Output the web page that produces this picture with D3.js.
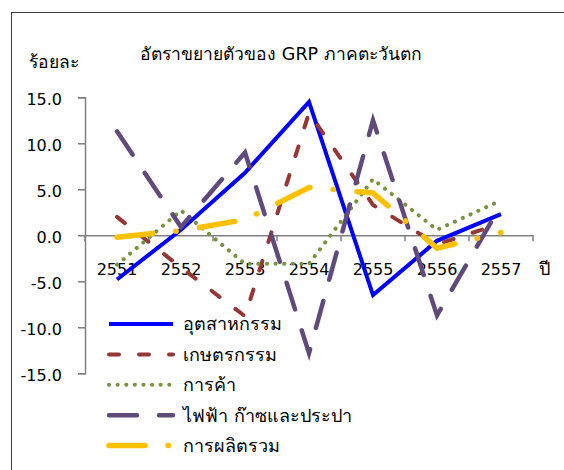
<!DOCTYPE html>
<html><head><meta charset="utf-8">
<script src="https://cdn.jsdelivr.net/npm/d3@7"></script>
<style>
html,body{margin:0;padding:0;background:#fff;}
svg{display:block;}
text{font-family:Tahoma,"DejaVu Sans",sans-serif;fill:#000;}
</style></head>
<body>
<svg id="c" width="564" height="470"></svg>
<script>
const title = "อัตราขยายตัวของ GRP ภาคตะวันตก";
const yUnit = "ร้อยละ";
const xUnit = "ปี";
const years = ["2551","2552","2553","2554","2555","2556","2557"];
const yTicks = [15, 10, 5, 0, -5, -10, -15];
const seriesNames = ["อุตสาหกรรม","เกษตรกรรม","การค้า","ไฟฟ้า ก๊าซและประปา","การผลิตรวม"];
const industry    = [-4.8, 0.6, 6.8, 14.5, -6.5, -0.6, 2.3];
const agriculture = [2.0, -3.5, -8.8, 13.3, 3.3, -1.0, 1.3];
const trade       = [-3.2, 2.7, -3.1, -3.1, 6.1, 0.6, 3.8];
const utilities   = [11.3, 0.9, 9.0, -12.8, 12.5, -8.7, 3.3];
const totalProd   = [-0.2, 0.5, 1.7, 5.2, 4.6, -1.4, 0.3];

const seriesValues = [industry, agriculture, trade, utilities, totalProd];
const styles = [
  {color:"#0000FF", w:4, dash:null},
  {color:"#953735", w:4, dash:"10,20"},
  {color:"#77933C", w:4, dash:"0.1,8.5"},
  {color:"#604A7B", w:4.5, dash:"28,22"},
  {color:"#FFC000", w:5.5, dash:"36,23,0.5,23.5"}
];

const svg = d3.select("#c");
svg.append("rect").attr("x",11.5).attr("y",12.5).attr("width",600).attr("height",500)
  .attr("fill","none").attr("stroke","#404040").attr("stroke-width",1);

const x = d3.scaleBand().domain(years).range([85,533]);
const y = d3.scaleLinear().domain([-15,15]).range([373.3,97.3]);

svg.append("text").attr("x",281).attr("y",60).attr("text-anchor","middle")
  .attr("font-size",17.5).text(title);
svg.append("text").attr("x",54).attr("y",68).attr("text-anchor","middle")
  .attr("font-size",17.5).text(yUnit);

const ya = svg.append("g").attr("transform","translate(85,0)")
  .call(d3.axisLeft(y).tickValues(yTicks).tickSize(7).tickPadding(16).tickFormat(d=>d.toFixed(1)));
ya.select(".domain").attr("stroke","#808080").attr("stroke-width",1.5);
ya.selectAll(".tick line").attr("stroke","#808080").attr("stroke-width",1.5);
ya.selectAll("text").attr("font-size",16).attr("font-family",'Tahoma,"DejaVu Sans",sans-serif').attr("dy","0.45em");

const xa = svg.append("g").attr("transform",`translate(0,${y(0)})`)
  .call(d3.axisBottom(x).tickSize(0).tickPadding(28));
xa.select(".domain").attr("stroke","#808080").attr("stroke-width",1.5);
xa.selectAll("text").attr("font-size",16).attr("font-family",'Tahoma,"DejaVu Sans",sans-serif');
const bounds = years.map(d=>x(d)).concat([x(years[years.length-1])+x.bandwidth()]);
xa.selectAll(".bt").data(bounds).enter().append("line")
  .attr("x1",d=>d).attr("x2",d=>d).attr("y1",0).attr("y2",6)
  .attr("stroke","#808080").attr("stroke-width",1.5);
svg.append("text").attr("x",539).attr("y",275).attr("font-size",18).text(xUnit);

const line = d3.line().x((d,i)=>x(years[i])+x.bandwidth()/2).y(d=>y(d));
seriesValues.forEach((vals,k)=>{
  const s = styles[k];
  svg.append("path").datum(vals).attr("d",line)
    .attr("fill","none").attr("stroke",s.color).attr("stroke-width",s.w)
    .attr("stroke-linecap", s.dash ? "round" : "butt")
    .attr("stroke-linejoin","miter")
    .attr("stroke-dasharray", s.dash);
});

const lg = svg.append("g");
seriesNames.forEach((n,k)=>{
  const s = styles[k];
  const yy = 324 + k*30.4;
  lg.append("line").attr("x1",109).attr("x2",173).attr("y1",yy).attr("y2",yy)
    .attr("stroke",s.color).attr("stroke-width",s.w)
    .attr("stroke-linecap", s.dash ? "round" : "butt")
    .attr("stroke-dasharray", s.dash);
  lg.append("text").attr("x",183).attr("y",yy).attr("dy","0.35em")
    .attr("font-size",18).text(n);
});
</script>
</body></html>
